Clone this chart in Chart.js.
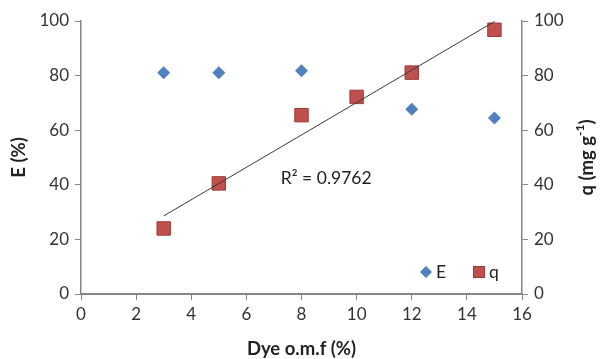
<!DOCTYPE html>
<html>
<head>
<meta charset="utf-8">
<script src="https://cdn.jsdelivr.net/npm/chart.js@4"></script>
<style>
  html, body { margin: 0; padding: 0; background: #fff; }
  #wrap { width: 600px; height: 359px; }
</style>
</head>
<body>
<div id="wrap"><canvas id="chart"></canvas></div>
<script>
const dye = [3, 5, 8, 10, 12, 15];
const eValues = [81, 81, 81.8, 72, 67.7, 64.5];
const qValues = [24, 40.5, 65.5, 72.2, 81.1, 96.8];
const trendX = [3, 15];
const trendY = [28.6, 99.8];
const r2Label = "R² = 0.9762";

const tickFont = { family: "Lato", size: 17 };
const axisColor = "#868686";

// axis titles, R² text and the little legend
const extras = {
  id: "extras",
  afterDraw(chart) {
    const ctx = chart.ctx;
    const area = chart.chartArea;
    const x = chart.scales.x;
    const y1 = chart.scales.y1;
    ctx.save();
    ctx.fillStyle = "#222";
    ctx.font = "bold 18.5px Lato";
    ctx.textAlign = "center";
    ctx.textBaseline = "middle";
    ctx.fillText("Dye o.m.f (%)", (area.left + area.right) / 2, 349);

    ctx.save();
    ctx.translate(19, (area.top + area.bottom) / 2);
    ctx.rotate(-Math.PI / 2);
    ctx.fillText("E (%)", 0, 0);
    ctx.restore();

    ctx.save();
    ctx.translate(587, (area.top + area.bottom) / 2);
    ctx.rotate(-Math.PI / 2);
    ctx.textAlign = "left";
    const parts = "q (mg g";
    const w1 = ctx.measureText(parts).width;
    ctx.font = "bold 12px Lato";
    const w2 = ctx.measureText("-1").width;
    ctx.font = "bold 18.5px Lato";
    const w3 = ctx.measureText(")").width;
    let start = -(w1 + w2 + w3) / 2;
    ctx.fillText(parts, start, 0);
    ctx.font = "bold 12px Lato";
    ctx.fillText("-1", start + w1, -7);
    ctx.font = "bold 18.5px Lato";
    ctx.fillText(")", start + w1 + w2, 0);
    ctx.restore();

    // R² label
    ctx.font = "17.5px Lato";
    ctx.textAlign = "left";
    ctx.fillStyle = "#222";
    ctx.fillText(r2Label, x.getPixelForValue(7.25), y1.getPixelForValue(42.5));

    // legend
    const ly = area.bottom - 22;
    ctx.fillStyle = "#4f81bd";
    ctx.beginPath();
    ctx.moveTo(426, ly - 6);
    ctx.lineTo(432, ly);
    ctx.lineTo(426, ly + 6);
    ctx.lineTo(420, ly);
    ctx.closePath();
    ctx.fill();
    ctx.fillStyle = "#222";
    ctx.fillText("E", 436, ly);
    ctx.fillStyle = "#c0504d";
    ctx.strokeStyle = "#9b3b38";
    ctx.fillRect(473, ly - 6, 12, 12);
    ctx.strokeRect(473.5, ly - 5.5, 11, 11);
    ctx.fillStyle = "#222";
    ctx.fillText("q", 489, ly);
    ctx.restore();
  }
};

new Chart(document.getElementById("chart"), {
  type: "scatter",
  data: {
    datasets: [
      {
        label: "trend",
        type: "line",
        data: trendX.map((v, i) => ({ x: v, y: trendY[i] })),
        yAxisID: "y1",
        borderColor: "#3a3a3a",
        borderWidth: 1,
        pointRadius: 0,
        order: 0
      },
      {
        label: "E",
        data: dye.map((v, i) => ({ x: v, y: eValues[i] })),
        yAxisID: "y",
        pointStyle: "rectRot",
        pointRadius: 6.5,
        backgroundColor: "#4f81bd",
        borderColor: "#4f81bd",
        borderWidth: 0,
        order: 2
      },
      {
        label: "q",
        data: dye.map((v, i) => ({ x: v, y: qValues[i] })),
        yAxisID: "y1",
        pointStyle: "rect",
        pointRadius: 9.5,
        backgroundColor: "#c0504d",
        borderColor: "#9b3b38",
        borderWidth: 1,
        order: 1
      }
    ]
  },
  options: {
    responsive: true,
    maintainAspectRatio: false,
    animation: false,
    layout: { padding: { top: 21, left: 0, right: 0, bottom: 0 } },
    plugins: {
      legend: { display: false },
      tooltip: { enabled: false }
    },
    scales: {
      x: {
        type: "linear",
        min: 0,
        max: 16,
        ticks: { stepSize: 2, font: tickFont, color: "#333", padding: 4 },
        grid: { drawOnChartArea: false, tickLength: 6, color: axisColor, tickColor: axisColor },
        border: { color: axisColor, width: 2 },
        afterFit: s => { s.height = 65; }
      },
      y: {
        position: "left",
        min: 0,
        max: 100,
        ticks: { stepSize: 20, font: tickFont, color: "#333", padding: 6 },
        grid: { drawOnChartArea: false, tickLength: 6, color: axisColor, tickColor: axisColor },
        border: { color: axisColor, width: 1.5 },
        afterFit: s => { s.width = 81; }
      },
      y1: {
        position: "right",
        min: 0,
        max: 100,
        ticks: { stepSize: 20, font: tickFont, color: "#333", padding: 6 },
        grid: { drawOnChartArea: false, tickLength: 6, color: axisColor, tickColor: axisColor },
        border: { color: axisColor, width: 1.5 },
        afterFit: s => { s.width = 78; }
      }
    }
  },
  plugins: [extras]
});
</script>
</body>
</html>
